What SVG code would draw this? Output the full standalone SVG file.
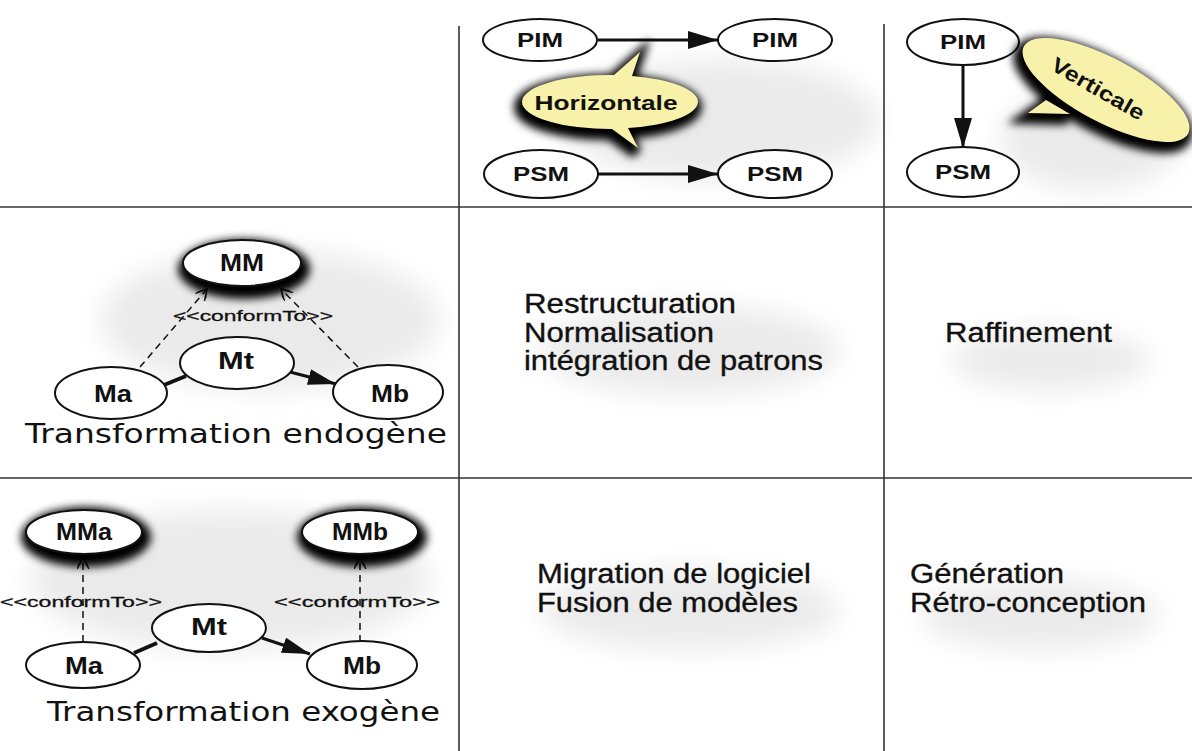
<svg xmlns="http://www.w3.org/2000/svg" width="1192" height="751" viewBox="0 0 1192 751">
  <style>
    .grid { stroke: #333; stroke-width: 1.6; fill: none; }
    .node { fill: #fff; stroke: #111; stroke-width: 2; }
    .lbl { font-family: "Liberation Sans", Arial, sans-serif; font-weight: bold; font-size: 21px; fill: #111; text-anchor: middle; }
    .mlbl { font-size: 24px; }
    .ctf { font-family: "Liberation Sans", Arial, sans-serif; font-size: 15px; fill: #111; stroke: #111; stroke-width: 0.3; text-anchor: middle; }
    .cap { font-family: "DejaVu Sans", Verdana, sans-serif; font-size: 26px; fill: #111; }
    .txt { font-family: "Liberation Sans", Arial, sans-serif; font-size: 27px; fill: #111; stroke: #111; stroke-width: 0.35; }
    .edge { stroke: #111; stroke-width: 3; fill: none; }
    .thick { stroke: #111; stroke-width: 4; fill: none; }
    .dash { stroke: #111; stroke-width: 1.5; stroke-dasharray: 7 5; fill: none; }
    .bubble { fill: #f7f1a9; }
    .haze { fill: #000; opacity: 0.08; filter: url(#soft); }
  </style>
  <defs>
    <filter id="soft" x="-50%" y="-50%" width="200%" height="200%">
      <feGaussianBlur stdDeviation="14"/>
    </filter>
    <filter id="glow" x="-50%" y="-50%" width="200%" height="200%">
      <feGaussianBlur stdDeviation="4"/>
    </filter>
    <marker id="head" markerUnits="userSpaceOnUse" markerWidth="32" markerHeight="20" refX="30" refY="9" orient="auto">
      <path d="M0,0 L30,9 L0,18 z" fill="#111"/>
    </marker>
    <marker id="headS" markerUnits="userSpaceOnUse" markerWidth="30" markerHeight="18" refX="28" refY="8" orient="auto">
      <path d="M0,0 L28,8 L0,16 z" fill="#111"/>
    </marker>
    <marker id="vee" markerUnits="userSpaceOnUse" markerWidth="14" markerHeight="14" refX="11" refY="6" orient="auto">
      <path d="M0,0 L11,6 L0,12 M3,1 L11,6 L3,11" fill="none" stroke="#111" stroke-width="1.4"/>
    </marker>
  </defs>

  <rect width="1192" height="751" fill="#fff"/>

  <!-- soft grey shading behind groups -->
  <g id="shading">
    <ellipse class="haze" cx="720" cy="120" rx="160" ry="60"/>
    <ellipse class="haze" cx="1090" cy="140" rx="90" ry="50"/>
    <ellipse class="haze" cx="270" cy="320" rx="170" ry="70"/>
    <ellipse class="haze" cx="690" cy="350" rx="150" ry="45"/>
    <ellipse class="haze" cx="1050" cy="360" rx="100" ry="30"/>
    <ellipse class="haze" cx="230" cy="580" rx="200" ry="70"/>
    <ellipse class="haze" cx="690" cy="610" rx="150" ry="40"/>
    <ellipse class="haze" cx="1040" cy="615" rx="120" ry="35"/>
  </g>

  <!-- table grid -->
  <g id="grid">
    <line class="grid" x1="459" y1="26" x2="459" y2="751"/>
    <line class="grid" x1="884" y1="24" x2="884" y2="751"/>
    <line class="grid" x1="0" y1="207" x2="1192" y2="207"/>
    <line class="grid" x1="0" y1="478" x2="1192" y2="478"/>
  </g>

  <g id="connectors">
    <!-- horizontal transformations -->
    <line class="edge" x1="598" y1="40" x2="718" y2="40" marker-end="url(#head)"/>
    <line class="edge" x1="598" y1="174" x2="718" y2="174" marker-end="url(#head)"/>
    <!-- vertical transformation -->
    <line class="edge" x1="963" y1="65" x2="963" y2="148" marker-end="url(#head)"/>
    <!-- endogenous -->
    <line class="dash" x1="140" y1="367" x2="207" y2="289" marker-end="url(#vee)"/>
    <line class="dash" x1="358" y1="367" x2="281" y2="289" marker-end="url(#vee)"/>
    <line class="thick" x1="164" y1="385" x2="186" y2="376"/>
    <line class="edge" x1="290" y1="372" x2="336" y2="384" marker-end="url(#headS)"/>
    <!-- exogenous -->
    <line class="dash" x1="83" y1="642" x2="83" y2="558" marker-end="url(#vee)"/>
    <line class="dash" x1="360" y1="642" x2="360" y2="558" marker-end="url(#vee)"/>
    <line class="thick" x1="134" y1="653" x2="157" y2="643"/>
    <line class="edge" x1="262" y1="638" x2="310" y2="654" marker-end="url(#headS)"/>
  </g>

  <!-- top row: model kinds -->
  <g id="pim-a"><ellipse class="node" cx="540" cy="40" rx="57" ry="21"/><text class="lbl" x="540" y="47" textLength="46" lengthAdjust="spacingAndGlyphs">PIM</text></g>
  <g id="pim-b"><ellipse class="node" cx="775" cy="40" rx="57" ry="21"/><text class="lbl" x="775" y="47" textLength="46" lengthAdjust="spacingAndGlyphs">PIM</text></g>
  <g id="psm-a"><ellipse class="node" cx="541" cy="174" rx="57" ry="24"/><text class="lbl" x="541" y="181" textLength="56" lengthAdjust="spacingAndGlyphs">PSM</text></g>
  <g id="psm-b"><ellipse class="node" cx="775" cy="174" rx="57" ry="24"/><text class="lbl" x="775" y="181" textLength="56" lengthAdjust="spacingAndGlyphs">PSM</text></g>
  <g id="pim-c"><ellipse class="node" cx="963" cy="42" rx="56" ry="23"/><text class="lbl" x="963" y="49" textLength="46" lengthAdjust="spacingAndGlyphs">PIM</text></g>
  <g id="psm-c"><ellipse class="node" cx="963" cy="172" rx="56" ry="25"/><text class="lbl" x="963" y="179" textLength="56" lengthAdjust="spacingAndGlyphs">PSM</text></g>

  <!-- callout: Horizontale -->
  <g id="callout-horizontale">
    <path d="M522,102 A88,27 0 0 1 614,75 L640,52 L632,76 A88,27 0 0 1 698,102 A88,27 0 0 1 628,128 L638,148 L612,129 A88,27 0 0 1 522,102 Z" fill="#000" stroke="#000" stroke-width="12" filter="url(#glow)" transform="translate(-2,5)"/>
    <path class="bubble" d="M522,102 A88,27 0 0 1 614,75 L640,52 L632,76 A88,27 0 0 1 698,102 A88,27 0 0 1 628,128 L638,148 L612,129 A88,27 0 0 1 522,102 Z"/>
    <text class="lbl" x="606" y="110" font-size="24" textLength="143" lengthAdjust="spacingAndGlyphs">Horizontale</text>
  </g>

  <!-- callout: Verticale -->
  <g id="callout-verticale">
    <g fill="#000" stroke="#000" stroke-width="12" filter="url(#glow)" transform="translate(-3,5)">
      <ellipse cx="1106" cy="90" rx="93" ry="32" transform="rotate(28 1106 90)"/>
      <path d="M1046,100 L1028,113 L1070,114 Z"/>
    </g>
    <g class="bubble">
      <ellipse cx="1106" cy="90" rx="93" ry="32" transform="rotate(28 1106 90)"/>
      <path d="M1046,100 L1028,113 L1070,114 Z"/>
    </g>
    <text class="lbl" x="1098" y="96" font-size="22" transform="rotate(30 1098 89)" textLength="104" lengthAdjust="spacingAndGlyphs">Verticale</text>
  </g>

  <!-- endogenous transformation -->
  <g id="mm">
    <ellipse cx="244" cy="269" rx="66" ry="30" fill="#000" filter="url(#glow)"/>
    <ellipse class="node" cx="242" cy="263" rx="59" ry="23" fill="#f4f4f4"/>
    <text class="lbl mlbl" x="242" y="271" textLength="44" lengthAdjust="spacingAndGlyphs">MM</text>
  </g>
  <text class="ctf" x="253" y="321" textLength="160" lengthAdjust="spacingAndGlyphs">&lt;&lt;conformTo&gt;&gt;</text>
  <g id="ma-endo"><ellipse class="node" cx="111" cy="393" rx="56" ry="26"/><text class="lbl mlbl" x="113" y="402" textLength="38" lengthAdjust="spacingAndGlyphs">Ma</text></g>
  <g id="mt-endo"><ellipse class="node" cx="237" cy="363" rx="57" ry="26"/><text class="lbl mlbl" x="236" y="369" textLength="36" lengthAdjust="spacingAndGlyphs">Mt</text></g>
  <g id="mb-endo"><ellipse class="node" cx="388" cy="392" rx="55" ry="27"/><text class="lbl mlbl" x="390" y="402" textLength="38" lengthAdjust="spacingAndGlyphs">Mb</text></g>
  <text class="cap" x="25" y="443" textLength="422" lengthAdjust="spacingAndGlyphs">Transformation endogène</text>

  <!-- exogenous transformation -->
  <g id="mma">
    <ellipse cx="86" cy="537" rx="65" ry="30" fill="#000" filter="url(#glow)"/>
    <ellipse class="node" cx="84" cy="532" rx="58" ry="22" fill="#f4f4f4"/>
    <text class="lbl mlbl" x="84" y="540" textLength="56" lengthAdjust="spacingAndGlyphs">MMa</text>
  </g>
  <g id="mmb">
    <ellipse cx="362" cy="537" rx="65" ry="30" fill="#000" filter="url(#glow)"/>
    <ellipse class="node" cx="360" cy="532" rx="58" ry="22" fill="#f4f4f4"/>
    <text class="lbl mlbl" x="360" y="540" textLength="56" lengthAdjust="spacingAndGlyphs">MMb</text>
  </g>
  <text class="ctf" x="81" y="607" textLength="162" lengthAdjust="spacingAndGlyphs">&lt;&lt;conformTo&gt;&gt;</text>
  <text class="ctf" x="357" y="607" textLength="166" lengthAdjust="spacingAndGlyphs">&lt;&lt;conformTo&gt;&gt;</text>
  <g id="ma-exo"><ellipse class="node" cx="83" cy="665" rx="57" ry="23"/><text class="lbl mlbl" x="84" y="674" textLength="38" lengthAdjust="spacingAndGlyphs">Ma</text></g>
  <g id="mt-exo"><ellipse class="node" cx="209" cy="628" rx="57" ry="24"/><text class="lbl mlbl" x="209" y="635" textLength="36" lengthAdjust="spacingAndGlyphs">Mt</text></g>
  <g id="mb-exo"><ellipse class="node" cx="362" cy="665" rx="55" ry="24"/><text class="lbl mlbl" x="362" y="674" textLength="38" lengthAdjust="spacingAndGlyphs">Mb</text></g>
  <text class="cap" x="47" y="721" textLength="393" lengthAdjust="spacingAndGlyphs">Transformation exogène</text>

  <!-- cell texts -->
  <g id="cell-endo-horizontal">
    <text class="txt" x="524" y="313" textLength="212" lengthAdjust="spacingAndGlyphs">Restructuration</text>
    <text class="txt" x="524" y="342" textLength="190" lengthAdjust="spacingAndGlyphs">Normalisation</text>
    <text class="txt" x="524" y="370" textLength="299" lengthAdjust="spacingAndGlyphs">intégration de patrons</text>
  </g>
  <g id="cell-endo-vertical">
    <text class="txt" x="945" y="342" textLength="167" lengthAdjust="spacingAndGlyphs">Raffinement</text>
  </g>
  <g id="cell-exo-horizontal">
    <text class="txt" x="537" y="583" textLength="274" lengthAdjust="spacingAndGlyphs">Migration de logiciel</text>
    <text class="txt" x="537" y="612" textLength="261" lengthAdjust="spacingAndGlyphs">Fusion de modèles</text>
  </g>
  <g id="cell-exo-vertical">
    <text class="txt" x="910" y="583" textLength="154" lengthAdjust="spacingAndGlyphs">Génération</text>
    <text class="txt" x="910" y="612" textLength="236" lengthAdjust="spacingAndGlyphs">Rétro-conception</text>
  </g>
</svg>
